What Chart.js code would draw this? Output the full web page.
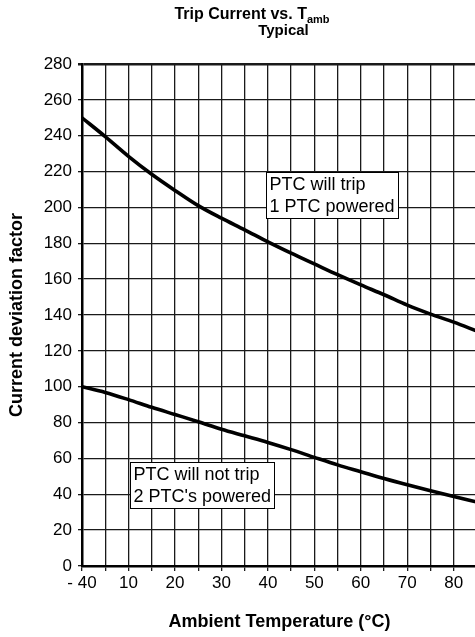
<!DOCTYPE html>
<html>
<head>
<meta charset="utf-8">
<script src="https://cdn.jsdelivr.net/npm/chart.js@4.4.0/dist/chart.umd.min.js"></script>
<style>
    html, body { margin: 0; padding: 0; background: #fff; overflow: hidden; }
    canvas { display: block; }
</style>
</head>
<body>
<canvas id="tripChart" width="485" height="637"></canvas>
<script>
// x positions on the plot (the left edge is labelled "- 40", an axis break)
const temps = [0, 5, 10, 15, 20, 25, 30, 35, 40, 45, 50, 55, 60, 65, 70, 75, 80, 85]
const tripCurve = [250, 239.5, 228.5, 218.5, 209.5, 201, 194, 187.5, 180.8, 174.5, 168.5, 162.5, 156.8, 151.3, 145.5, 140.5, 136, 131]
const noTripCurve = [100, 96.8, 92.8, 88.5, 84.5, 80.5, 76.3, 72.6, 68.9, 64.9, 60.6, 56.4, 52.6, 48.8, 45.3, 42, 38.8, 35.7]

const xTickValues = [0, 10, 20, 30, 40, 50, 60, 70, 80]
const xTickLabels = ["- 40", "10", "20", "30", "40", "50", "60", "70", "80"]

const tripNote = ["PTC will trip", "1 PTC powered"]
const noTripNote = ["PTC will not trip", "2 PTC's powered"]

const FONT = '"Liberation Sans", Arial, Helvetica, sans-serif'

// where each note box sits, in axis units (top-left corner)
const noteBoxes = [
    { lines: tripNote, x: 39.5, y: 219.8 },
    { lines: noTripNote, x: 10.4, y: 57.8 }
]

const decorPlugin = {
    id: 'decor',
    afterDraw(chart) {
        const ctx = chart.ctx
        const xs = chart.scales.x
        const ys = chart.scales.y
        ctx.save()

        // title with subscript
        ctx.fillStyle = '#000'
        ctx.textBaseline = 'alphabetic'
        ctx.textAlign = 'left'
        ctx.font = 'bold 16px ' + FONT
        const main = 'Trip Current vs. T'
        const wMain = ctx.measureText(main).width
        ctx.font = 'bold 11px ' + FONT
        const wSub = ctx.measureText('amb').width
        const startX = 252 - (wMain + wSub) / 2
        ctx.font = 'bold 16px ' + FONT
        ctx.fillText(main, startX, 19)
        ctx.font = 'bold 11px ' + FONT
        ctx.fillText('amb', startX + wMain, 23)

        ctx.font = 'bold 15px ' + FONT
        ctx.textAlign = 'center'
        ctx.fillText('Typical', 283.5, 35)

        // note boxes
        ctx.font = '18px ' + FONT
        ctx.textAlign = 'left'
        noteBoxes.forEach(function (note) {
            const left = Math.round(xs.getPixelForValue(note.x)) + 0.5
            const top = Math.round(ys.getPixelForValue(note.y)) + 0.5
            let w = 0
            note.lines.forEach(function (l) { w = Math.max(w, ctx.measureText(l).width) })
            const bw = Math.round(w + 7)
            const bh = 46
            ctx.fillStyle = '#fff'
            ctx.fillRect(left, top, bw, bh)
            ctx.strokeStyle = '#000'
            ctx.lineWidth = 1
            ctx.strokeRect(left, top, bw, bh)
            ctx.fillStyle = '#000'
            note.lines.forEach(function (l, i) {
                ctx.fillText(l, left + 3, top + 17 + i * 22)
            })
        })
        ctx.restore()
    }
}

function onPageLoad() {
    const context = document.getElementById('tripChart').getContext('2d')

    new Chart(context, {
        type: 'line',
        data: {
            datasets: [{
                data: temps.map(function (t, i) { return { x: t, y: tripCurve[i] } }),
                borderColor: '#000',
                borderWidth: 3.6,
                pointRadius: 0,
                cubicInterpolationMode: 'monotone',
                fill: false
            }, {
                data: temps.map(function (t, i) { return { x: t, y: noTripCurve[i] } }),
                borderColor: '#000',
                borderWidth: 3.6,
                pointRadius: 0,
                cubicInterpolationMode: 'monotone',
                fill: false
            }]
        },
        options: {
            responsive: false,
            animation: false,
            devicePixelRatio: 1,
            layout: { padding: { top: 64, right: 8, left: 0, bottom: 0 } },
            plugins: {
                legend: { display: false },
                tooltip: { enabled: false }
            },
            scales: {
                x: {
                    type: 'linear',
                    min: 0,
                    max: 85,
                    afterBuildTicks: function (scale) {
                        scale.ticks = temps.map(function (t) { return { value: t } })
                    },
                    afterFit: function (scale) {
                        scale.height = 71
                        scale.paddingLeft = 0
                        scale.paddingRight = 0
                    },
                    ticks: {
                        autoSkip: false,
                        maxRotation: 0,
                        padding: 2,
                        color: '#000',
                        font: { family: FONT, size: 17 },
                        callback: function (value) {
                            const i = xTickValues.indexOf(value)
                            return i >= 0 ? xTickLabels[i] : ''
                        }
                    },
                    grid: { color: '#1a1a1a', lineWidth: 1.3, tickLength: 5, drawTicks: true },
                    border: { color: '#000', width: 2.5 },
                    title: {
                        display: true,
                        text: 'Ambient Temperature (°C)',
                        color: '#000',
                        font: { family: FONT, size: 18, weight: 'bold' },
                        padding: { top: 0, bottom: 4 }
                    }
                },
                y: {
                    min: 0,
                    max: 280,
                    afterFit: function (scale) {
                        scale.width = 82
                        scale.paddingTop = 0
                        scale.paddingBottom = 0
                    },
                    ticks: {
                        stepSize: 20,
                        padding: 6,
                        color: '#000',
                        font: { family: FONT, size: 17 }
                    },
                    grid: {
                        color: '#1a1a1a',
                        tickLength: 4,
                        lineWidth: function (c) { return c.tick && c.tick.value === 280 ? 2.5 : 1.3 }
                    },
                    border: { color: '#000', width: 2.5 },
                    title: {
                        display: true,
                        text: 'Current deviation factor',
                        color: '#000',
                        font: { family: FONT, size: 18, weight: 'bold' },
                        padding: { top: 6, bottom: 0 }
                    }
                }
            }
        },
        plugins: [decorPlugin]
    })
}

window.onload = onPageLoad
</script>
</body>
</html>
